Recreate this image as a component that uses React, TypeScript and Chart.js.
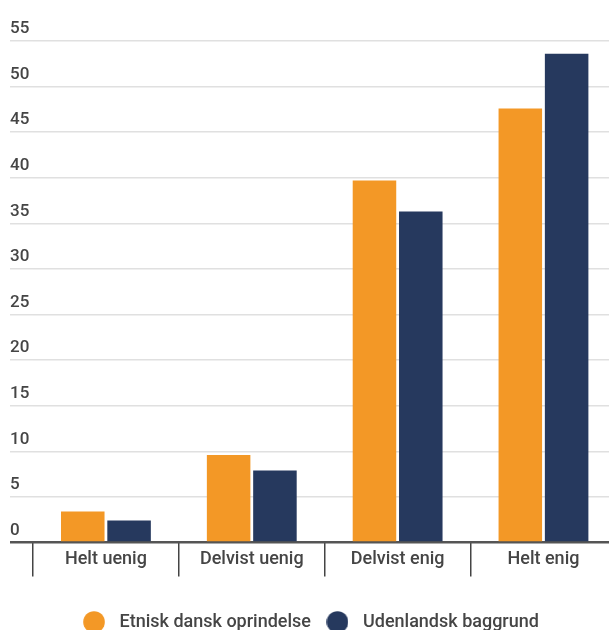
import React, { useEffect, useRef } from 'react';
import { Chart, registerables } from 'chart.js';

Chart.register(...registerables);

const categories = ['Helt uenig', 'Delvist uenig', 'Delvist enig', 'Helt enig'];
const seriesNames = ['Etnisk dansk oprindelse', 'Udenlandsk baggrund'];
const etniskDansk = [3.4, 9.6, 39.7, 47.6];
const udenlandsk = [2.4, 7.9, 36.3, 53.6];
const yMin = 0;
const yMax = 55;
const yStep = 5;

const ORANGE = '#F39826';
const NAVY = '#26395E';
const TEXT = '#454545';

function makeDot(color: string): HTMLCanvasElement {
  const c = document.createElement('canvas');
  c.width = 22;
  c.height = 22;
  const g = c.getContext('2d')!;
  g.fillStyle = color;
  g.beginPath();
  g.arc(11, 11, 10.8, 0, Math.PI * 2);
  g.fill();
  return c;
}

export default function App() {
  const ref = useRef<HTMLCanvasElement>(null);

  useEffect(() => {
    const canvas = ref.current!;
    const chart = new Chart(canvas, {
      type: 'bar',
      data: {
        labels: categories,
        datasets: [
          {
            label: seriesNames[0],
            data: etniskDansk,
            backgroundColor: ORANGE,
            yAxisID: 'y',
            xAxisID: 'x',
            pointStyle: makeDot(ORANGE) as any,
          },
          {
            label: seriesNames[1],
            data: udenlandsk,
            backgroundColor: NAVY,
            yAxisID: 'y',
            xAxisID: 'x',
            pointStyle: makeDot(NAVY) as any,
          },
        ],
      },
      options: {
        responsive: false,
        animation: false,
        devicePixelRatio: 1,
        layout: { padding: { left: 0, right: 3.6, top: 41, bottom: 0 } },
        datasets: { bar: { categoryPercentage: 0.635, barPercentage: 0.94 } },
        scales: {
          x: {
            type: 'category',
            offset: true,
            grid: {
              display: true,
              offset: true,
              drawOnChartArea: false,
              drawTicks: true,
              tickLength: 34,
              color: '#444',
              lineWidth: 1.5,
            },
            border: { display: false },
            ticks: {
              padding: -28,
              font: { family: 'Roboto', size: 18, weight: '500' },
              color: TEXT,
            },
            afterFit: (s: any) => {
              s.height = 60.5;
            },
          },
          y: {
            type: 'linear',
            position: 'left',
            weight: 0,
            min: yMin,
            max: yMax,
            ticks: {
              stepSize: yStep,
              mirror: true,
              padding: -23,
              labelOffset: -12,
              font: { family: 'Roboto', size: 17, weight: '500' },
              color: TEXT,
            },
            grid: {
              color: (ctx: any) => (ctx.tick && ctx.tick.value === 0 ? '#555' : '#e0e0e0'),
              lineWidth: (ctx: any) => (ctx.tick && ctx.tick.value === 0 ? 2.5 : 1.5),
              drawTicks: true,
              tickLength: 23,
            },
            border: { display: false },
            afterFit: (s: any) => {
              s.width = 23;
            },
          },
          pad: {
            type: 'linear',
            position: 'left',
            weight: 1,
            display: true,
            grid: { display: false },
            ticks: { display: false },
            border: { display: false },
            afterFit: (s: any) => {
              s.width = 10;
            },
          },
        },
        plugins: {
          legend: {
            position: 'bottom',
            labels: {
              usePointStyle: true,
              pointStyleWidth: 33,
              boxHeight: 18,
              padding: 10,
              font: { family: 'Roboto', size: 18, weight: '500' },
              color: TEXT,
            },
          },
          tooltip: { enabled: false },
        },
      } as any,
    });
    return () => chart.destroy();
  }, []);

  return (
    <div
      style={{
        position: 'fixed',
        left: 0,
        top: 0,
        width: 609,
        height: 630,
        overflow: 'hidden',
        background: '#fff',
      }}
    >
      <canvas ref={ref} width={620} height={641} style={{ display: 'block' }} />
    </div>
  );
}
